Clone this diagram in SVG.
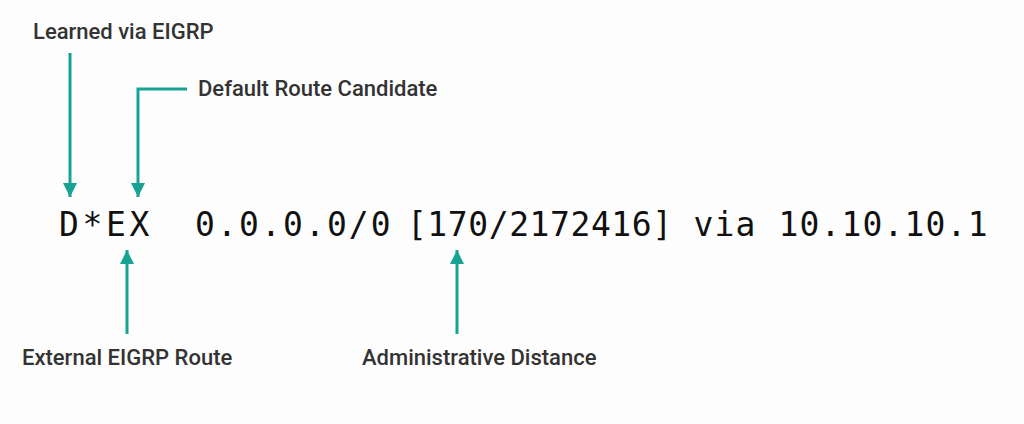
<svg xmlns="http://www.w3.org/2000/svg" width="1024" height="424" viewBox="0 0 1024 424">
<style>
.lbl{font-family:Roboto,"Liberation Sans",sans-serif;font-size:22px;font-weight:500;fill:#333333}
.code{font-family:"DejaVu Sans Mono","Liberation Mono",monospace;font-size:33px;letter-spacing:1.2px;fill:#111111;white-space:pre}
.conn{fill:none;stroke:#17a394;stroke-width:3}
</style>
<defs>
<marker id="ah" markerUnits="userSpaceOnUse" markerWidth="16" markerHeight="16" refX="14" refY="7" orient="auto">
<path d="M0,0 L14,7 L0,14 Z" fill="#17a394"/>
</marker>
</defs>
<rect width="1024" height="424" fill="#fdfdfd"/>
<g id="connectors">
<path class="conn" d="M70,53 V197" marker-end="url(#ah)"/>
<path class="conn" d="M187,89 H138 V197" marker-end="url(#ah)"/>
<path class="conn" d="M127,334 V250" marker-end="url(#ah)"/>
<path class="conn" d="M457,334 V250" marker-end="url(#ah)"/>
</g>
<g id="route-line"><text class="code" y="236" xml:space="preserve"><tspan x="59.1" style="letter-spacing:3.6px">D*EX  </tspan><tspan x="195.1" style="letter-spacing:2.1px">0.0.0.0/0 </tspan><tspan x="406.9" style="letter-spacing:0.58px">[170/2172416] </tspan><tspan x="693.4">via </tspan><tspan x="778.4" style="letter-spacing:1.16px">10.10.10.1</tspan></text></g>
<g id="learned"><text class="lbl" x="33" y="39">Learned via EIGRP</text></g>
<g id="default-candidate"><text class="lbl" x="198" y="96">Default Route Candidate</text></g>
<g id="external"><text class="lbl" x="22" y="365">External EIGRP Route</text></g>
<g id="admin-distance"><text class="lbl" x="362" y="365">Administrative Distance</text></g>
</svg>
